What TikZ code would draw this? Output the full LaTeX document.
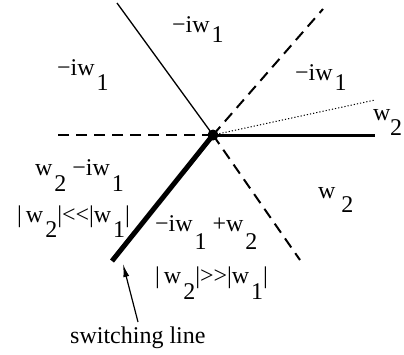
\documentclass[tikz,border=0pt]{standalone}
\usepackage{fontspec}
\setmainfont{Liberation Serif}
\usetikzlibrary{arrows.meta, positioning, calc}
\newcommand{\dn}[2][0.65em]{\kern0.08em\raisebox{-#1}{#2}}

\begin{document}
\begin{tikzpicture}[x=1pt, y=-1pt,
    every node/.style={font=\fontsize{24}{28}\selectfont, inner sep=0pt},
    lab/.style={anchor=base west},
    stokes/.style={line width=1.3pt},
    anti/.style={line width=2pt, dash pattern=on 11pt off 7pt},
    weak/.style={line width=1pt, dash pattern=on 1.2pt off 2pt},
    real/.style={line width=3pt},
    switch/.style={line width=5pt}]
    \useasboundingbox (0,0) rectangle (404,354);
    \node[circle, fill, minimum size=11pt] (o) at (213,135) {};
    \coordinate (up) at (117,3);
    \coordinate (left) at (53,135);
    \coordinate (ur) at (323,9);
    \coordinate (dot) at (375,100);
    \coordinate (right) at (375,135);
    \coordinate (lr) at (300,260);
    \coordinate (sl) at (112,261);
    \draw[stokes] (o.center) -- (up);
    \draw[anti] (o.center) -- (left);
    \draw[anti] (o.center) -- (ur);
    \draw[anti] (o.center) -- (lr);
    \draw[weak] (o.center) -- (dot);
    \draw[real] (o.center) -- (right);
    \draw[switch] (o.center) -- (sl);
    \node[lab] (top) at (172,32) {−iw\dn[0.45em]{1}};
    \node[lab] (tl) at (57,75) {−iw\dn{1}};
    \node[lab] (tr) at (295,80) {−iw\dn[0.45em]{1}};
    \node[lab] (r) at (373,120) {w\kern-0.1em\dn{2}};
    \node[lab] (br) at (318,198) {w\,\dn[0.6em]{2}};
    \node[lab] (bl) at (35,175) {w\dn[0.7em]{2} −iw\dn[0.7em]{1}};
    \node[lab] (blc) at (17,222) {|\,w\dn{2}|<\kern0pt<|w\dn{1}|};
    \node[lab] (bm) at (155,231) {−iw\dn[0.75em]{1} +w\dn[0.75em]{2}};
    \node[lab] (bmc) at (155,283) {|\,w\dn[0.7em]{2}|>\kern0pt>|w\dn[0.7em]{1}|};
    \node[lab] (sw) at (70,343) {switching line};
    \coordinate (tail) at (138,322);
    \coordinate (tip) at (123,264);
    \draw[line width=1.2pt, -{Latex[length=13pt, width=6pt]}] (tail) -- (tip);
\end{tikzpicture}
\end{document}
